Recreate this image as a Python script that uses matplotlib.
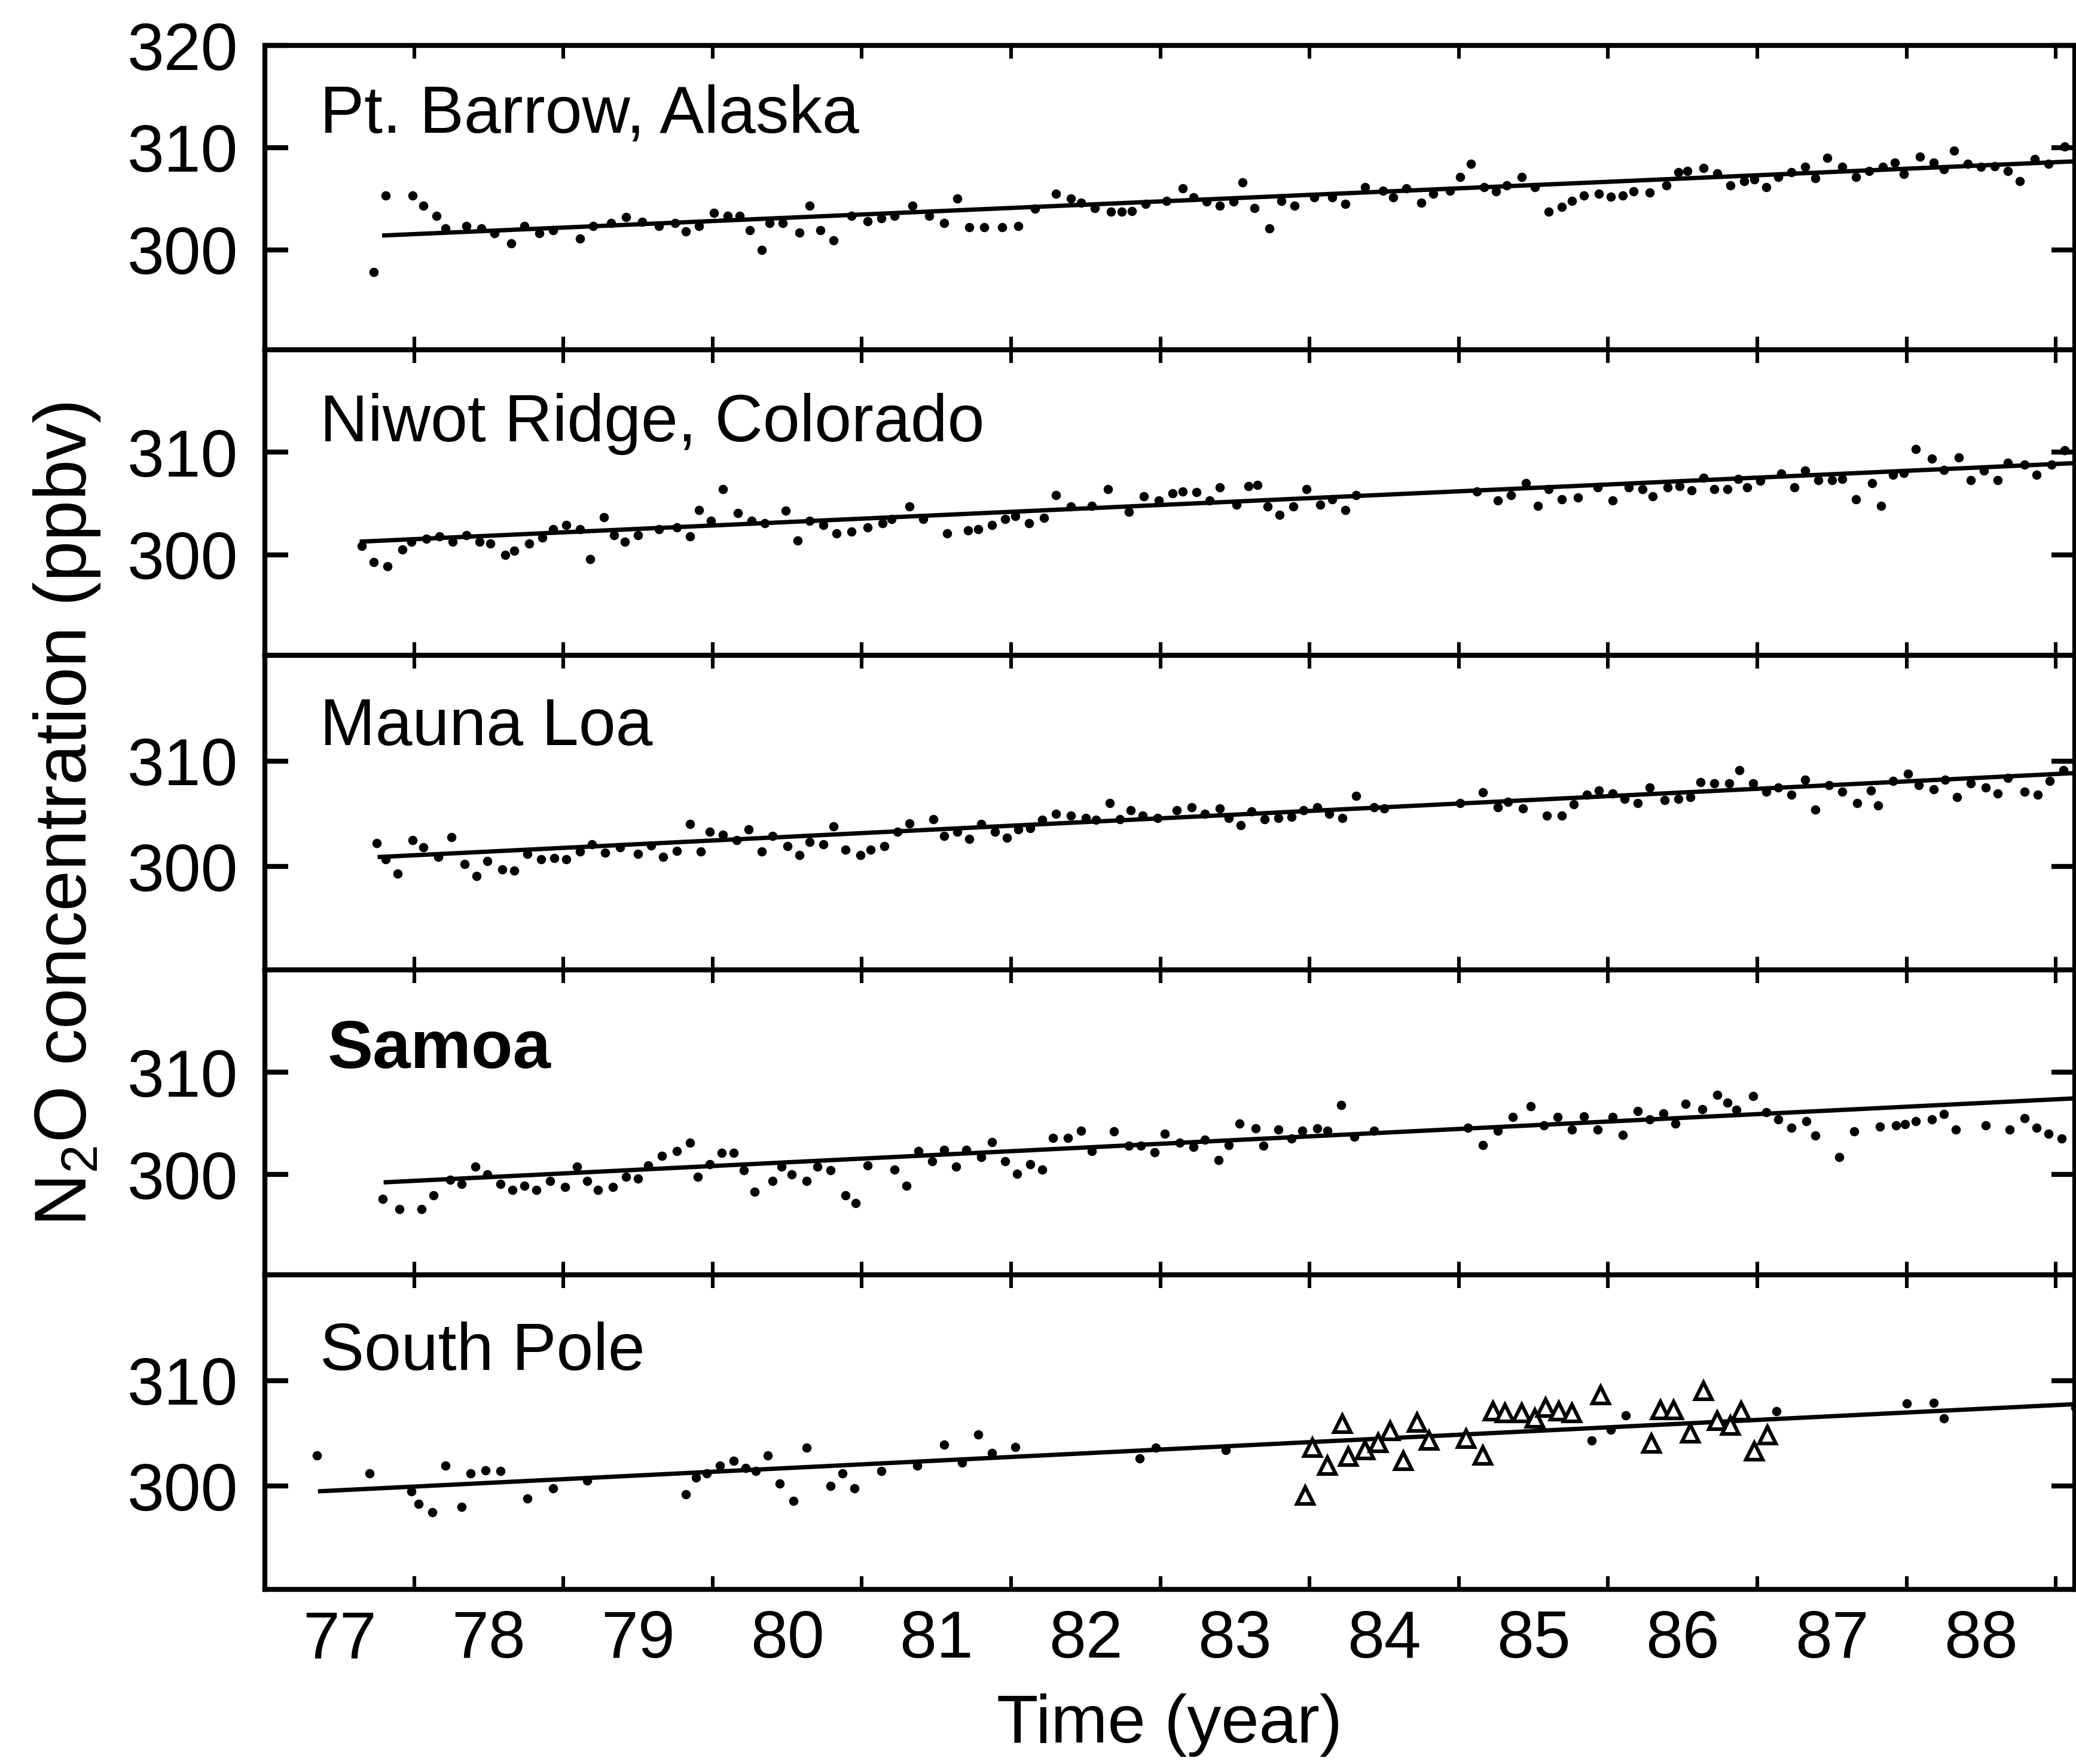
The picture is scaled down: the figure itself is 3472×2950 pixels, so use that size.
import numpy as np
import matplotlib.pyplot as plt

plt.rcParams['font.family'] = ['Liberation Sans', 'DejaVu Sans']
plt.rcParams['mathtext.fontset'] = 'custom'
plt.rcParams['mathtext.rm'] = 'Liberation Sans'

# station names, top to bottom
stations = ["Pt. Barrow, Alaska", "Niwot Ridge, Colorado", "Mauna Loa", "Samoa", "South Pole"]

# monthly means (year, ppbv)
brw_year = [1977.73, 1977.81, 1977.99, 1978.06, 1978.15, 1978.21, 1978.35, 1978.45, 1978.54, 1978.65,
            1978.74, 1978.84, 1978.93, 1979.11, 1979.20, 1979.32, 1979.42, 1979.53, 1979.64, 1979.75,
            1979.82, 1979.91, 1980.01, 1980.10, 1980.18, 1980.25, 1980.33, 1980.38, 1980.47, 1980.58,
            1980.65, 1980.72, 1980.81, 1980.93, 1981.04, 1981.13, 1981.22, 1981.34, 1981.45, 1981.55,
            1981.64, 1981.72, 1981.82, 1981.94, 1982.05, 1982.16, 1982.30, 1982.40, 1982.47, 1982.56,
            1982.67, 1982.74, 1982.81, 1982.90, 1983.04, 1983.15, 1983.22, 1983.31, 1983.40, 1983.49,
            1983.55, 1983.63, 1983.73, 1983.81, 1983.90, 1984.03, 1984.15, 1984.24, 1984.37, 1984.49,
            1984.56, 1984.65, 1984.75, 1984.83, 1984.94, 1985.01, 1985.08, 1985.17, 1985.25, 1985.32,
            1985.42, 1985.51, 1985.60, 1985.69, 1985.76, 1985.84, 1985.94, 1986.02, 1986.10, 1986.17,
            1986.28, 1986.39, 1986.47, 1986.53, 1986.64, 1986.73, 1986.82, 1986.91, 1986.98, 1987.06,
            1987.14, 1987.23, 1987.32, 1987.39, 1987.47, 1987.57, 1987.66, 1987.75, 1987.84, 1987.92,
            1987.98, 1988.09, 1988.18, 1988.25, 1988.32, 1988.41, 1988.50, 1988.59, 1988.68, 1988.76,
            1988.86, 1988.95, 1989.06]
brw_n2o = [297.8, 305.3, 305.3, 304.3, 303.3, 302.1, 302.3, 302.1, 301.6, 300.6,
           302.3, 301.6, 301.9, 301.1, 302.3, 302.6, 303.2, 302.7, 302.3, 302.6,
           301.8, 302.3, 303.6, 303.3, 303.3, 301.9, 300.0, 302.6, 302.6, 301.7,
           304.3, 301.9, 300.9, 303.3, 302.8, 303.1, 303.3, 304.3, 303.3, 302.6,
           305.0, 302.2, 302.2, 302.2, 302.3, 304.0, 305.5, 305.0, 304.6, 304.1,
           303.7, 303.7, 303.8, 304.5, 304.8, 306.0, 305.1, 304.7, 304.3, 304.7,
           306.6, 304.1, 302.1, 304.8, 304.3, 305.1, 305.1, 304.5, 306.1, 305.8,
           305.1, 306.0, 304.6, 305.5, 305.8, 307.1, 308.4, 306.1, 305.7, 306.3,
           307.1, 306.1, 303.7, 304.2, 304.8, 305.3, 305.5, 305.2, 305.3, 305.7,
           305.6, 306.3, 307.6, 307.7, 308.0, 307.5, 306.3, 306.7, 306.9, 306.1,
           307.1, 307.6, 308.1, 307.0, 309.0, 308.1, 307.1, 307.7, 308.1, 308.5,
           307.4, 309.1, 308.5, 307.9, 309.7, 308.4, 308.1, 308.2, 307.7, 306.7,
           308.9, 308.4, 310.1]

nwr_year = [1977.65, 1977.73, 1977.82, 1977.92, 1977.98, 1978.08, 1978.17, 1978.26, 1978.35, 1978.44,
            1978.51, 1978.61, 1978.67, 1978.77, 1978.86, 1978.93, 1979.02, 1979.11, 1979.18, 1979.27,
            1979.34, 1979.41, 1979.50, 1979.64, 1979.76, 1979.85, 1979.91, 1979.99, 1980.07, 1980.17,
            1980.26, 1980.35, 1980.49, 1980.57, 1980.65, 1980.74, 1980.83, 1980.93, 1981.04, 1981.14,
            1981.20, 1981.32, 1981.41, 1981.57, 1981.71, 1981.78, 1981.87, 1981.96, 1982.03, 1982.12,
            1982.22, 1982.30, 1982.40, 1982.54, 1982.65, 1982.79, 1982.89, 1982.99, 1983.08, 1983.15,
            1983.24, 1983.33, 1983.40, 1983.51, 1983.59, 1983.65, 1983.72, 1983.80, 1983.89, 1983.98,
            1984.07, 1984.15, 1984.24, 1984.31, 1985.12, 1985.26, 1985.35, 1985.45, 1985.53, 1985.60,
            1985.69, 1985.80, 1985.93, 1986.03, 1986.14, 1986.23, 1986.30, 1986.40, 1986.48, 1986.56,
            1986.64, 1986.71, 1986.80, 1986.87, 1986.93, 1987.02, 1987.16, 1987.25, 1987.32, 1987.41,
            1987.50, 1987.57, 1987.66, 1987.77, 1987.83, 1987.91, 1987.98, 1988.06, 1988.17, 1988.25,
            1988.35, 1988.43, 1988.52, 1988.61, 1988.68, 1988.79, 1988.87, 1988.97, 1989.06]
nwr_n2o = [300.9, 299.3, 298.9, 300.5, 301.3, 301.6, 301.8, 301.3, 301.9, 301.3,
           301.1, 300.0, 300.4, 301.1, 301.7, 302.5, 302.9, 302.5, 299.6, 303.7,
           301.9, 301.3, 301.9, 302.5, 302.7, 301.8, 304.4, 303.3, 306.4, 304.1,
           303.3, 303.1, 304.3, 301.4, 303.3, 302.9, 302.1, 302.3, 302.7, 303.1,
           303.5, 304.7, 303.5, 302.1, 302.4, 302.5, 302.9, 303.5, 303.8, 303.1,
           303.6, 305.8, 304.7, 304.8, 306.4, 304.2, 305.7, 305.3, 306.0, 306.2,
           306.1, 305.3, 306.6, 304.9, 306.7, 306.8, 304.7, 303.9, 304.7, 306.4,
           304.9, 305.4, 304.4, 305.8, 306.2, 305.3, 305.8, 307.0, 304.8, 306.4,
           305.4, 305.6, 306.6, 305.3, 306.6, 306.4, 305.7, 306.6, 306.7, 306.3,
           307.5, 306.4, 306.4, 307.4, 306.6, 307.2, 307.9, 306.6, 308.2, 307.3,
           307.3, 307.4, 305.4, 307.0, 304.8, 307.8, 308.0, 310.3, 309.4, 308.3,
           309.5, 307.3, 308.2, 307.3, 309.0, 308.8, 307.8, 308.8, 310.2]

mlo_year = [1977.75, 1977.81, 1977.89, 1977.99, 1978.06, 1978.16, 1978.25, 1978.34, 1978.42, 1978.49,
            1978.59, 1978.67, 1978.76, 1978.85, 1978.94, 1979.02, 1979.11, 1979.19, 1979.28, 1979.38,
            1979.50, 1979.59, 1979.67, 1979.76, 1979.85, 1979.92, 1979.98, 1980.07, 1980.16, 1980.24,
            1980.33, 1980.40, 1980.50, 1980.58, 1980.65, 1980.74, 1980.81, 1980.89, 1980.99, 1981.06,
            1981.15, 1981.24, 1981.32, 1981.48, 1981.55, 1981.64, 1981.72, 1981.80, 1981.89, 1981.97,
            1982.05, 1982.13, 1982.21, 1982.30, 1982.40, 1982.50, 1982.57, 1982.66, 1982.73, 1982.80,
            1982.88, 1982.98, 1983.11, 1983.21, 1983.30, 1983.40, 1983.46, 1983.54, 1983.61, 1983.70,
            1983.79, 1983.88, 1983.96, 1984.05, 1984.13, 1984.22, 1984.31, 1984.43, 1984.50, 1985.01,
            1985.16, 1985.26, 1985.33, 1985.43, 1985.59, 1985.69, 1985.77, 1985.86, 1985.94, 1986.03,
            1986.11, 1986.20, 1986.28, 1986.38, 1986.47, 1986.55, 1986.62, 1986.71, 1986.81, 1986.88,
            1986.97, 1987.06, 1987.14, 1987.23, 1987.32, 1987.39, 1987.48, 1987.57, 1987.67, 1987.76,
            1987.81, 1987.91, 1988.01, 1988.08, 1988.18, 1988.26, 1988.34, 1988.43, 1988.53, 1988.61,
            1988.68, 1988.79, 1988.88, 1988.96, 1989.05]
mlo_n2o = [302.2, 300.7, 299.3, 302.5, 301.8, 300.9, 302.8, 300.2, 299.1, 300.5,
           299.7, 299.6, 301.2, 300.7, 300.8, 300.7, 301.4, 302.1, 301.3, 301.8,
           301.2, 302.0, 300.9, 301.5, 304.0, 301.4, 303.3, 303.0, 302.5, 303.5,
           301.4, 302.9, 301.9, 301.1, 302.3, 302.1, 303.8, 301.6, 301.1, 301.6,
           301.9, 303.3, 304.1, 304.5, 302.9, 303.3, 302.6, 304.0, 303.3, 302.7,
           303.5, 303.6, 304.4, 305.0, 304.8, 304.6, 304.4, 306.0, 304.5, 305.3,
           304.8, 304.6, 305.3, 305.6, 305.0, 305.5, 304.6, 303.9, 305.2, 304.5,
           304.6, 304.7, 305.3, 305.6, 305.0, 304.6, 306.7, 305.6, 305.5, 306.0,
           307.0, 305.6, 306.1, 305.5, 304.8, 304.8, 305.9, 306.8, 307.2, 306.9,
           306.4, 306.0, 307.5, 306.3, 306.4, 306.6, 308.0, 307.9, 307.9, 309.1,
           307.9, 307.1, 307.5, 306.8, 308.2, 305.4, 307.7, 307.1, 306.0, 307.2,
           305.8, 308.1, 308.8, 307.7, 307.3, 308.2, 306.6, 307.9, 307.5, 306.9,
           308.4, 307.1, 306.8, 308.1, 309.1]

smo_year = [1977.79, 1977.90, 1978.05, 1978.13, 1978.24, 1978.32, 1978.41, 1978.49, 1978.58, 1978.66,
            1978.74, 1978.82, 1978.91, 1979.01, 1979.09, 1979.16, 1979.23, 1979.33, 1979.42, 1979.50,
            1979.57, 1979.66, 1979.76, 1979.85, 1979.90, 1979.98, 1980.06, 1980.14, 1980.21, 1980.28,
            1980.40, 1980.46, 1980.53, 1980.63, 1980.70, 1980.79, 1980.89, 1980.96, 1981.04, 1981.22,
            1981.30, 1981.38, 1981.47, 1981.55, 1981.63, 1981.70, 1981.80, 1981.87, 1981.96, 1982.04,
            1982.13, 1982.21, 1982.28, 1982.38, 1982.47, 1982.54, 1982.69, 1982.79, 1982.87, 1982.96,
            1983.03, 1983.13, 1983.22, 1983.30, 1983.39, 1983.46, 1983.53, 1983.64, 1983.69, 1983.79,
            1983.88, 1983.95, 1984.05, 1984.12, 1984.21, 1984.30, 1984.43, 1985.06, 1985.16, 1985.26,
            1985.36, 1985.48, 1985.57, 1985.66, 1985.76, 1985.84, 1985.93, 1986.03, 1986.10, 1986.20,
            1986.28, 1986.37, 1986.45, 1986.52, 1986.63, 1986.73, 1986.80, 1986.86, 1986.97, 1987.06,
            1987.14, 1987.23, 1987.33, 1987.39, 1987.55, 1987.65, 1987.82, 1987.93, 1987.99, 1988.06,
            1988.17, 1988.25, 1988.33, 1988.53, 1988.69, 1988.79, 1988.87, 1988.95, 1989.04]
smo_n2o = [297.6, 296.6, 296.6, 298.0, 299.5, 299.1, 300.8, 300.0, 299.1, 298.5,
           298.9, 298.5, 299.4, 298.8, 300.8, 299.4, 298.5, 298.8, 299.8, 299.6,
           300.9, 301.8, 302.3, 303.1, 299.8, 301.0, 302.1, 302.1, 300.4, 298.3,
           299.4, 300.8, 300.0, 299.4, 300.8, 300.4, 298.0, 297.2, 300.9, 300.5,
           298.9, 302.3, 301.3, 302.4, 300.8, 302.4, 301.7, 303.2, 301.3, 300.1,
           301.0, 300.5, 303.6, 303.6, 304.3, 302.3, 304.2, 302.8, 302.8, 302.2,
           304.0, 303.1, 302.7, 303.4, 301.4, 302.9, 305.0, 304.5, 302.8, 304.4,
           303.5, 304.3, 304.5, 304.3, 306.8, 303.7, 304.3, 304.6, 302.9, 304.3,
           305.6, 306.7, 304.8, 305.6, 304.4, 305.7, 304.4, 305.6, 303.9, 306.2,
           305.4, 306.0, 305.0, 306.9, 306.4, 307.8, 307.0, 306.3, 307.7, 306.1,
           305.4, 304.6, 305.2, 303.8, 301.7, 304.2, 304.7, 304.8, 304.9, 305.2,
           305.4, 305.9, 304.4, 304.8, 304.4, 305.5, 304.6, 304.0, 303.5]

spo_year = [1977.35, 1977.70, 1977.98, 1978.03, 1978.12, 1978.21, 1978.32, 1978.38, 1978.48, 1978.58,
            1978.76, 1978.93, 1979.16, 1979.82, 1979.89, 1979.96, 1980.05, 1980.14, 1980.22, 1980.29,
            1980.37, 1980.45, 1980.54, 1980.63, 1980.79, 1980.87, 1980.95, 1981.13, 1981.37, 1981.55,
            1981.67, 1981.78, 1981.87, 1982.03, 1982.86, 1982.97, 1983.44, 1985.89, 1986.02, 1986.12,
            1987.13, 1988.00, 1988.18, 1988.25, 1989.13]
spo_n2o = [302.9, 301.2, 299.5, 298.3, 297.5, 301.9, 298.0, 301.2, 301.5, 301.4,
           298.8, 299.8, 300.5, 299.2, 300.8, 301.2, 301.9, 302.4, 301.7, 301.4,
           302.9, 300.2, 298.6, 303.6, 300.0, 301.2, 299.8, 301.4, 301.9, 303.9,
           302.2, 304.9, 303.1, 303.7, 302.6, 303.6, 303.4, 304.3, 305.3, 306.7,
           307.1, 307.8, 307.9, 306.4, 307.4]

# open triangles at South Pole
spo_tri_year = [1983.97, 1984.02, 1984.12, 1984.22, 1984.26, 1984.37, 1984.46, 1984.54, 1984.63, 1984.72,
                1984.80, 1985.05, 1985.16, 1985.23, 1985.31, 1985.42, 1985.51, 1985.58, 1985.67, 1985.76,
                1985.95, 1986.29, 1986.35, 1986.44, 1986.55, 1986.64, 1986.73, 1986.82, 1986.89, 1986.98,
                1987.07]
spo_tri_n2o = [299.1, 303.6, 301.9, 305.9, 302.8, 303.4, 304.1, 305.2, 302.4, 306.0,
               304.3, 304.5, 302.9, 307.1, 306.9, 306.9, 306.4, 307.4, 307.1, 306.9,
               308.6, 304.0, 307.2, 307.2, 305.0, 309.0, 306.2, 305.7, 307.1, 303.3,
               304.8]

# trend lines: start/end year and value
trend_x = [[1977.80, 1989.2], [1977.65, 1989.2], [1977.77, 1989.2], [1977.81, 1989.2], [1977.37, 1989.2]]
trend_y = [[301.4, 308.7], [301.3, 309.0], [300.9, 308.9], [299.25, 307.5], [299.5, 307.8]]

# label baseline in data coords
label_y = [311.5, 311.1, 311.5, 310.4, 311.0]

year_bounds = list(range(1978, 1990))
year_mid = [y + 0.5 for y in range(1977, 1989)]
year_labels = ['77', '78', '79', '80', '81', '82', '83', '84', '85', '86', '87', '88']

series_year = [brw_year, nwr_year, mlo_year, smo_year, spo_year]
series_n2o = [brw_n2o, nwr_n2o, mlo_n2o, smo_n2o, spo_n2o]

W, H = 3473, 2950
fig = plt.figure(figsize=(W / 200, H / 200), dpi=200)

# panel edges in pixels from the top
edges = [76, 585, 1096, 1622, 2132, 2658]
left_px, right_px = 443, 3470

for i in range(5):
    top, bot = edges[i], edges[i + 1]
    ax = fig.add_axes([left_px / W, 1 - bot / H, (right_px - left_px) / W, (bot - top) / H])
    ax.set_xlim(1977, 1977 + (right_px - left_px) / 249.6)
    ax.set_ylim(290.2, 320)

    ax.plot(trend_x[i], trend_y[i], color='black', lw=2.6, zorder=2)
    ax.plot(series_year[i], series_n2o[i], 'o', color='black', ms=5.6, mew=0, zorder=3)
    if i == 4:
        ax.plot(spo_tri_year, spo_tri_n2o, '^', mfc='white', mec='black', mew=2.2, ms=10, zorder=4)

    if stations[i] == "Samoa":
        ax.text(1977.42, label_y[i], stations[i], fontsize=41, fontweight='bold',
                ha='left', va='baseline')
    else:
        ax.text(1977.37, label_y[i], stations[i], fontsize=40, ha='left', va='baseline')

    for s in ax.spines.values():
        s.set_linewidth(3)

    ax.set_xticks(year_bounds)
    ax.set_xticklabels([])
    ax.tick_params(axis='x', which='major', direction='in', top=True, bottom=True,
                   length=8, width=2.2)
    if i == 0:
        ax.set_yticks([300, 310, 320])
    else:
        ax.set_yticks([300, 310])
    ax.tick_params(axis='y', direction='in', left=True, right=True, length=14, width=3,
                   labelsize=40, pad=16)
    if i == 4:
        ax.set_xticks(year_mid, minor=True)
        ax.set_xticklabels(year_labels, minor=True)
        ax.tick_params(axis='x', which='minor', length=0, labelsize=40, pad=12)

fig.text((left_px + right_px) / 2 / W, 1 - 2885 / H, 'Time (year)', fontsize=41,
         ha='center', va='center')
fig.text(112 / W, 1 - 1362 / H, r'N$_\mathrm{2}$O concentration (ppbv)', fontsize=44,
         rotation=90, ha='center', va='center')

fig.savefig('out.png', dpi=200)
